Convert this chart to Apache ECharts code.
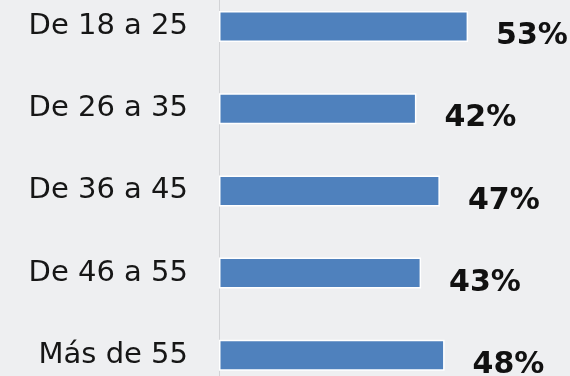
<!DOCTYPE html>
<html>
<head>
<meta charset="utf-8">
<script src="https://cdn.jsdelivr.net/npm/echarts@6/dist/echarts.min.js"></script>
<style>
html,body{margin:0;padding:0;background:#eeeff1;}
#chart{width:570px;height:376px;}
</style>
</head>
<body>
<div id="chart"></div>
<script>
const categories = ['De 18 a 25', 'De 26 a 35', 'De 36 a 45', 'De 46 a 55', 'Más de 55'];
const values = [53, 42, 47, 43, 48];

const chart = echarts.init(document.getElementById('chart'), null, {renderer: 'canvas'});
chart.setOption({
  backgroundColor: '#eeeff1',
  animation: false,
  grid: {left: 219, top: -14.6, width: 329, height: 411, containLabel: false, outerBoundsMode: 'none'},
  xAxis: {
    type: 'value', min: 0, max: 70,
    show: false
  },
  yAxis: {
    type: 'category', data: categories, inverse: true,
    axisLine: {show: true, lineStyle: {color: '#d2d3d6', width: 1}},
    axisTick: {show: false},
    axisLabel: {
      fontFamily: 'DejaVu Sans', fontSize: 29, color: '#161616', margin: 31
    }
  },
  series: [{
    type: 'bar',
    data: values,
    barWidth: 31,
    itemStyle: {color: '#4f81bd', borderColor: '#ffffff', borderWidth: 1.5},
    label: {
      show: true, position: 'right', distance: 28, offset: [0, 10],
      formatter: '{c}%',
      fontFamily: 'DejaVu Sans', fontWeight: 'bold', fontSize: 30, color: '#111111'
    }
  }]
});
</script>
</body>
</html>
